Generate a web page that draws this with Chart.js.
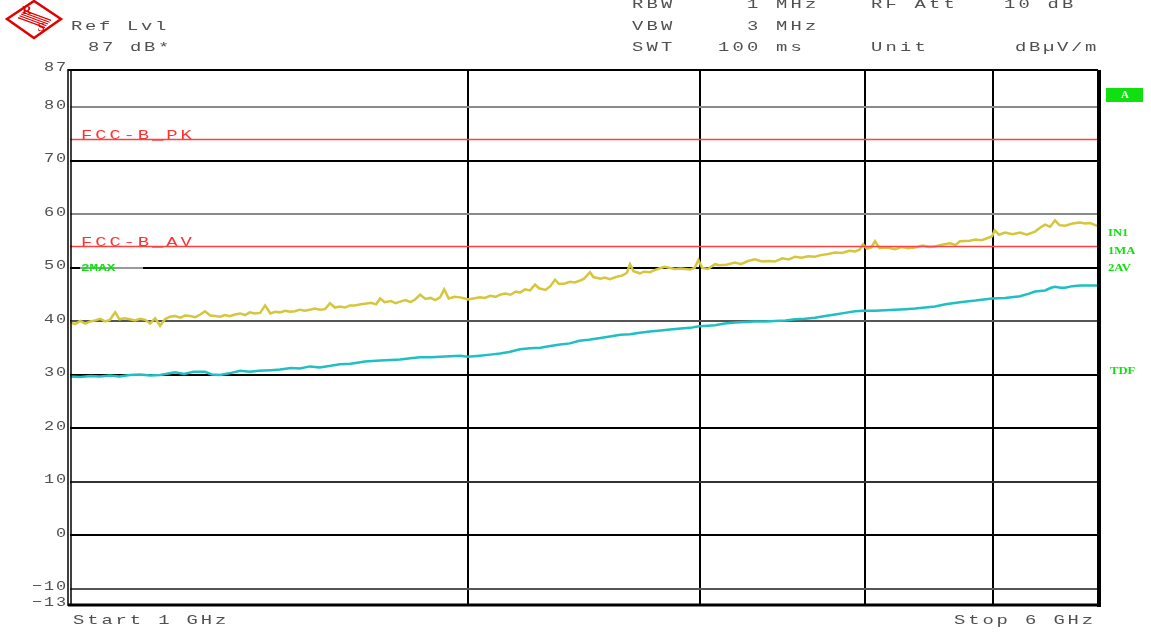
<!DOCTYPE html>
<html>
<head>
<meta charset="utf-8">
<script src="https://cdn.jsdelivr.net/npm/chart.js@4"></script>
<style>
  html, body { margin: 0; padding: 0; background: #fff; }
  #wrap { width: 1151px; height: 632px; }
</style>
</head>
<body>
<div id="wrap"><canvas id="grafik_spektrum" width="1151" height="632"></canvas></div>
<script>
// trace 1: max peak (GHz / dBuV/m)
var freqPk = [1.000, 1.009, 1.018, 1.027, 1.036, 1.045, 1.054, 1.063, 1.072, 1.082, 1.090, 1.100, 1.110, 1.120, 1.130, 1.140, 1.150, 1.160, 1.170, 1.180,
  1.190, 1.201, 1.212, 1.222, 1.233, 1.244, 1.255, 1.265, 1.277, 1.288, 1.299, 1.310, 1.321, 1.333, 1.345, 1.357, 1.368, 1.380, 1.393, 1.405,
  1.418, 1.430, 1.442, 1.455, 1.468, 1.480, 1.493, 1.506, 1.519, 1.532, 1.546, 1.560, 1.573, 1.587, 1.601, 1.615, 1.629, 1.643, 1.660, 1.672,
  1.690, 1.705, 1.717, 1.730, 1.750, 1.764, 1.778, 1.795, 1.810, 1.825, 1.841, 1.858, 1.875, 1.890, 1.906, 1.920, 1.935, 1.955, 1.974, 1.990,
  2.000, 2.020, 2.043, 2.060, 2.080, 2.100, 2.116, 2.135, 2.155, 2.175, 2.191, 2.210, 2.230, 2.249, 2.265, 2.290, 2.310, 2.329, 2.345, 2.370,
  2.390, 2.411, 2.430, 2.450, 2.475, 2.490, 2.520, 2.540, 2.563, 2.590, 2.620, 2.640, 2.654, 2.670, 2.700, 2.720, 2.748, 2.770, 2.800, 2.820,
  2.846, 2.870, 2.900, 2.947, 2.970, 2.990, 3.010, 3.040, 3.078, 3.100, 3.140, 3.187, 3.220, 3.260, 3.300, 3.340, 3.380, 3.417, 3.460, 3.500,
  3.539, 3.580, 3.620, 3.664, 3.700, 3.750, 3.794, 3.840, 3.890, 3.929, 3.960, 3.984, 4.010, 4.040, 4.068, 4.100, 4.150, 4.212, 4.260, 4.310,
  4.361, 4.420, 4.470, 4.516, 4.580, 4.635, 4.680, 4.717, 4.800, 4.845, 4.900, 4.950, 4.988, 5.010, 5.050, 5.102, 5.170, 5.238, 5.300, 5.376,
  5.430, 5.471, 5.520, 5.567, 5.610, 5.665, 5.740, 5.815, 5.870, 5.917, 5.960, 6.000];
var levelPk = [39.8, 39.5, 40.1, 39.6, 40.0, 40.2, 40.5, 40.0, 40.3, 41.7, 40.4, 40.6, 40.4, 40.2, 40.5, 40.3, 39.6, 40.6, 39.2, 40.4,
  40.9, 41.0, 40.7, 41.1, 41.0, 40.8, 41.3, 41.9, 41.1, 41.0, 40.9, 41.2, 41.0, 41.3, 41.5, 41.2, 41.7, 41.5, 41.6, 43.0,
  41.5, 41.8, 41.7, 42.0, 41.8, 41.9, 42.2, 42.0, 42.2, 42.4, 42.2, 42.3, 43.4, 42.6, 42.8, 42.6, 43.0, 43.0, 43.2, 43.3,
  43.5, 43.2, 44.3, 43.6, 43.8, 43.4, 43.7, 44.0, 43.6, 44.1, 45.0, 44.2, 44.4, 44.0, 44.5, 46.0, 44.3, 44.6, 44.5, 44.3,
  44.1, 44.3, 44.5, 44.4, 44.8, 44.6, 45.0, 45.2, 45.0, 45.6, 45.4, 46.0, 45.8, 46.9, 46.2, 45.9, 46.6, 47.8, 47.0, 47.1,
  47.4, 47.3, 47.6, 48.0, 49.2, 48.3, 48.0, 48.2, 47.9, 48.3, 48.6, 49.1, 50.7, 49.4, 49.0, 49.3, 49.2, 49.6, 50.0, 50.2,
  50.0, 49.8, 49.9, 49.7, 50.0, 51.5, 50.0, 49.8, 50.7, 50.5, 50.6, 51.0, 50.7, 51.3, 51.6, 51.2, 51.3, 51.2, 51.8, 51.6,
  52.1, 51.9, 52.2, 52.1, 52.4, 52.6, 52.9, 52.8, 53.2, 53.1, 53.4, 54.4, 53.6, 53.8, 55.0, 53.7, 53.8, 53.5, 53.9, 53.7,
  53.8, 54.2, 53.9, 54.0, 54.4, 54.6, 54.3, 55.0, 55.1, 55.3, 55.2, 55.6, 55.9, 57.0, 56.2, 56.6, 56.3, 56.6, 56.2, 56.8,
  57.6, 58.1, 57.7, 58.9, 58.0, 57.9, 58.3, 58.5, 58.3, 58.4, 58.1, 57.8];

// trace 2: average
var freqAv = [1.000, 1.018, 1.036, 1.054, 1.072, 1.090, 1.110, 1.130, 1.150, 1.170, 1.190, 1.201, 1.220, 1.240, 1.265, 1.280, 1.299, 1.320, 1.345, 1.368,
  1.390, 1.420, 1.442, 1.470, 1.493, 1.519, 1.545, 1.575, 1.601, 1.630, 1.650, 1.672, 1.717, 1.750, 1.778, 1.810, 1.841, 1.875, 1.906, 1.940,
  1.974, 2.000, 2.043, 2.080, 2.116, 2.150, 2.191, 2.230, 2.270, 2.310, 2.350, 2.390, 2.430, 2.470, 2.520, 2.563, 2.610, 2.654, 2.700, 2.748,
  2.800, 2.846, 2.900, 2.947, 2.993, 3.040, 3.078, 3.130, 3.187, 3.240, 3.300, 3.360, 3.417, 3.480, 3.539, 3.600, 3.664, 3.730, 3.794, 3.860,
  3.929, 3.984, 4.068, 4.140, 4.212, 4.290, 4.361, 4.440, 4.516, 4.600, 4.717, 4.845, 4.988, 5.102, 5.238, 5.320, 5.376, 5.471, 5.530, 5.567,
  5.620, 5.665, 5.740, 5.815, 5.917, 6.000];
var levelAv = [29.7, 29.6, 29.8, 29.7, 29.9, 29.7, 30.0, 30.1, 29.9, 30.0, 30.3, 30.5, 30.2, 30.6, 30.6, 30.1, 30.0, 30.3, 30.8, 30.6,
  30.8, 30.9, 31.0, 31.3, 31.2, 31.6, 31.4, 31.7, 32.0, 32.1, 32.3, 32.5, 32.7, 32.8, 32.9, 33.1, 33.3, 33.3, 33.4, 33.5,
  33.6, 33.4, 33.6, 33.8, 34.0, 34.3, 34.8, 35.0, 35.1, 35.4, 35.7, 35.9, 36.4, 36.6, 36.9, 37.2, 37.5, 37.6, 37.9, 38.1,
  38.3, 38.5, 38.7, 38.8, 39.1, 39.2, 39.3, 39.6, 39.8, 39.9, 40.0, 40.0, 40.1, 40.2, 40.4, 40.5, 40.7, 41.0, 41.3, 41.6,
  41.9, 42.0, 42.0, 42.1, 42.2, 42.3, 42.4, 42.6, 42.8, 43.2, 43.6, 43.9, 44.3, 44.4, 44.7, 45.2, 45.6, 45.8, 46.3, 46.5,
  46.3, 46.3, 46.6, 46.7, 46.7, 46.7];

var limitPk = 74;      // FCC-B_PK
var limitAv = 54;      // FCC-B_AV
var freqSpan = [1, 6];
var yTicks = [87, 80, 70, 60, 50, 40, 30, 20, 10, 0, -10, -13];
var xGrid = [2, 3, 4, 5];

var gridColor = { 80: '#8a8a8a', 60: '#8a8a8a', 40: '#555', 10: '#333', '-10': '#555' };
var textGrey = '#505050';

// draws text with a wide fixed pitch like the analyser screen font
var spaced = (ctx, text, x, y, step, color, sx) => {
    ctx.fillStyle = color;
    ctx.font = '13px "Liberation Mono"';
    ctx.textBaseline = 'middle';
    ctx.textAlign = 'left';
    for (var i = 0; i < text.length; i++) {
        ctx.save();
        ctx.translate(x + i * step, y);
        ctx.scale(sx || 1.45, 1);
        ctx.fillText(text[i], 0, 0);
        ctx.restore();
    }
};

var screenPlugin = {
    id: 'screen',
    afterDraw: function (chart) {
        var ctx = chart.ctx;
        var a = chart.chartArea;
        var ys = chart.scales.y;
        ctx.save();

        // logo
        ctx.strokeStyle = '#e00000';
        ctx.lineWidth = 2.5;
        ctx.beginPath();
        ctx.moveTo(34, 1); ctx.lineTo(61, 19); ctx.lineTo(34, 38); ctx.lineTo(7, 19); ctx.closePath();
        ctx.stroke();
        ctx.lineWidth = 1.2;
        for (var k = -2; k <= 2; k++) {
            ctx.beginPath();
            ctx.moveTo(21 + k * 1.5, 14 - k * 1.8); ctx.lineTo(48 + k * 1.5, 24 - k * 1.8);
            ctx.stroke();
        }
        ctx.fillStyle = '#e00000';
        ctx.font = 'bold 13px "Liberation Serif"';
        ctx.textAlign = 'center'; ctx.textBaseline = 'middle';
        ctx.fillText('R', 27, 11);
        ctx.fillText('S', 41, 28);

        // header
        spaced(ctx, 'Ref Lvl', 71, 27, 14, textGrey);
        spaced(ctx, '87 dB*', 88, 48, 14, textGrey);
        spaced(ctx, 'RBW', 632, 5, 14.5, textGrey);
        spaced(ctx, '1 MHz', 747, 5, 14.5, textGrey);
        spaced(ctx, 'RF Att', 871, 5, 14.5, textGrey);
        spaced(ctx, '10 dB', 1004, 5, 14.5, textGrey);
        spaced(ctx, 'VBW', 632, 27, 14.5, textGrey);
        spaced(ctx, '3 MHz', 747, 27, 14.5, textGrey);
        spaced(ctx, 'SWT', 632, 48, 14.5, textGrey);
        spaced(ctx, '100 ms', 718, 48, 14.5, textGrey);
        spaced(ctx, 'Unit', 871, 48, 14.5, textGrey);
        spaced(ctx, 'dBµV/m', 1015, 48, 14, textGrey);

        // y labels
        yTicks.forEach(function (v) {
            var s = v < 0 ? '\u2212' + Math.abs(v) : String(v);
            var step = 12;
            spaced(ctx, s, a.left - 3 - s.length * step + 1, ys.getPixelForValue(v) - 2, step, textGrey, 1.3);
        });

        // limit line labels
        spaced(ctx, 'FCC-B_PK', 81, ys.getPixelForValue(limitPk) - 4, 14.2, '#ff3030');
        spaced(ctx, 'FCC-B_AV', 81, ys.getPixelForValue(limitAv) - 4, 14.2, '#ff3030');

        // 2MAX marker
        var y50 = ys.getPixelForValue(50);
        ctx.strokeStyle = '#999'; ctx.lineWidth = 2;
        ctx.beginPath(); ctx.moveTo(80, y50); ctx.lineTo(143, y50); ctx.stroke();
        ctx.fillStyle = '#10e010';
        ctx.font = 'bold 11px "Liberation Mono"';
        ctx.textAlign = 'left'; ctx.textBaseline = 'middle';
        ctx.save(); ctx.translate(81, y50); ctx.scale(1.3, 1); ctx.fillText('2MAX', 0, 0); ctx.restore();

        // frame
        ctx.strokeStyle = '#000';
        ctx.lineWidth = 1.5;
        ctx.beginPath(); ctx.moveTo(a.left - 2, a.top - 1); ctx.lineTo(a.left - 2, a.bottom + 1); ctx.stroke();
        ctx.beginPath(); ctx.moveTo(a.left + 1, a.top); ctx.lineTo(a.left + 1, a.bottom); ctx.stroke();
        ctx.lineWidth = 2;
        ctx.beginPath(); ctx.moveTo(a.left - 2, a.top); ctx.lineTo(a.right, a.top); ctx.stroke();
        ctx.lineWidth = 3;
        ctx.beginPath(); ctx.moveTo(a.left - 2, a.bottom); ctx.lineTo(a.right + 2, a.bottom); ctx.stroke();
        ctx.lineWidth = 4;
        ctx.beginPath(); ctx.moveTo(a.right + 1, a.top); ctx.lineTo(a.right + 1, a.bottom + 2); ctx.stroke();

        // right side annotations
        ctx.fillStyle = '#10e010';
        ctx.fillRect(1106, 88, 37, 14);
        ctx.fillStyle = '#fff';
        ctx.font = 'bold 11px "Liberation Serif"';
        ctx.textAlign = 'center';
        ctx.fillText('A', 1125, 95);
        ctx.fillStyle = '#10e010';
        ctx.textAlign = 'left';
        ctx.font = 'bold 11px "Liberation Serif"';
        [['IN1', 1108, 233], ['1MA', 1108, 251], ['2AV', 1108, 268], ['TDF', 1110, 371]].forEach(function (t) {
            ctx.save(); ctx.translate(t[1], t[2]); ctx.scale(1.15, 1); ctx.fillText(t[0], 0, 0); ctx.restore();
        });

        // bottom
        spaced(ctx, 'Start 1 GHz', 73, 621, 14.2, textGrey);
        spaced(ctx, 'Stop 6 GHz', 954, 621, 14.2, textGrey);
        ctx.restore();
    }
};

var pts = (xs, ys) => xs.map((x, i) => ({ x: x, y: ys[i] }));

var drawChart = () => {
    const ctx = document.getElementById('grafik_spektrum');
    new Chart(ctx, {
        type: 'line',
        data: {
            datasets: [{
                label: 'FCC-B_PK',
                data: pts(freqSpan, [limitPk, limitPk]),
                borderColor: '#ff4040',
                borderWidth: 1.5,
                pointRadius: 0
            }, {
                label: 'FCC-B_AV',
                data: pts(freqSpan, [limitAv, limitAv]),
                borderColor: '#ff4040',
                borderWidth: 1.5,
                pointRadius: 0
            }, {
                label: '1MA',
                data: pts(freqPk, levelPk),
                borderColor: '#d6c63c',
                borderWidth: 2.5,
                pointRadius: 0,
                tension: 0
            }, {
                label: '2AV',
                data: pts(freqAv, levelAv),
                borderColor: '#1fbfc2',
                borderWidth: 2.5,
                pointRadius: 0,
                tension: 0
            }]
        },
        options: {
            responsive: false,
            animation: false,
            layout: { padding: { left: 70, top: 70, right: 53, bottom: 27 } },
            plugins: { legend: { display: false }, tooltip: { enabled: false } },
            scales: {
                x: {
                    type: 'logarithmic',
                    min: freqSpan[0],
                    max: freqSpan[1],
                    afterBuildTicks: function (s) { s.ticks = xGrid.map(v => ({ value: v })); },
                    ticks: { display: false },
                    grid: { color: '#000', lineWidth: 2, drawTicks: false },
                    border: { display: false }
                },
                y: {
                    min: -13,
                    max: 87,
                    afterBuildTicks: function (s) { s.ticks = yTicks.map(v => ({ value: v })); },
                    ticks: { display: false },
                    grid: {
                        drawTicks: false,
                        lineWidth: 2,
                        color: function (c) {
                            var v = c.tick ? c.tick.value : 0;
                            if (v === 87 || v === -13) return 'rgba(0,0,0,0)';
                            return gridColor[v] || '#000';
                        }
                    },
                    border: { display: false }
                }
            }
        },
        plugins: [screenPlugin]
    });
};

drawChart();
</script>
</body>
</html>
